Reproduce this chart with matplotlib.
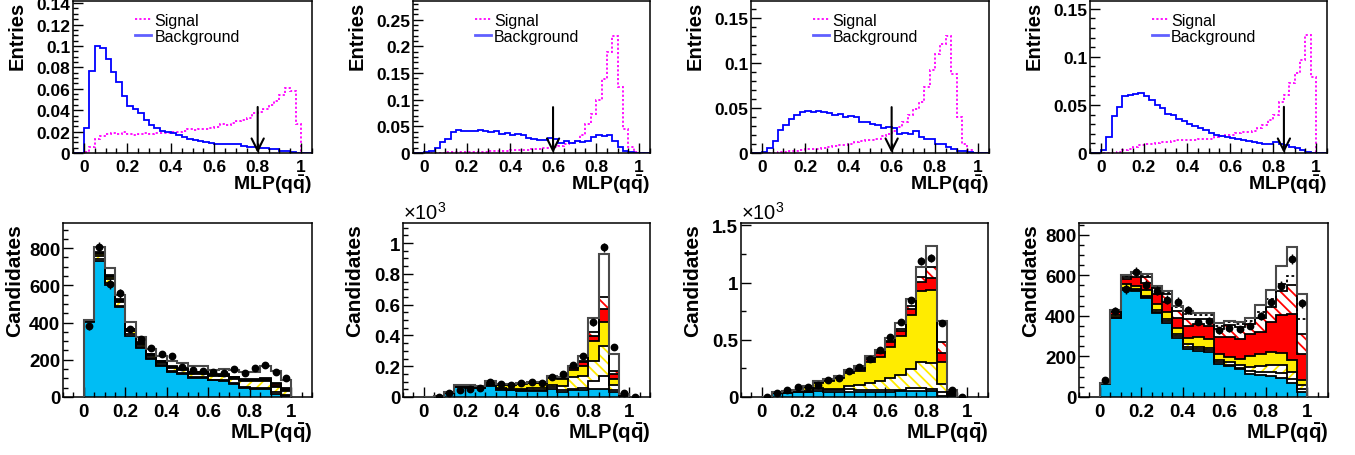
import numpy as np
import matplotlib
matplotlib.use("Agg")
import matplotlib.pyplot as plt
from matplotlib.lines import Line2D
from matplotlib.ticker import MultipleLocator, FuncFormatter

plt.rcParams.update({
    "font.family": ["Liberation Sans", "DejaVu Sans"],
    "font.weight": "bold",
    "mathtext.fontset": "custom",
    "mathtext.rm": "Liberation Sans:regular",
    "mathtext.bf": "Liberation Sans:bold",
    "mathtext.it": "Liberation Sans:italic",
    "hatch.linewidth": 1.3,
})

# ---------------- normalised MLP shapes (40 bins on [0, 1]) ----------------
sig1 = [0.001, 0.006, 0.013, 0.016, 0.018, 0.019, 0.018, 0.0195, 0.018, 0.017,
        0.0178, 0.019, 0.018, 0.019, 0.0185, 0.019, 0.0196, 0.020, 0.021, 0.022,
        0.0218, 0.022, 0.022, 0.023, 0.024, 0.027, 0.026, 0.028, 0.030, 0.031,
        0.033, 0.037, 0.038, 0.041, 0.045, 0.049, 0.054, 0.061, 0.058, 0.027]
bkg1 = [0.023, 0.077, 0.0995, 0.098, 0.088, 0.076, 0.066, 0.053, 0.044, 0.041,
        0.037, 0.031, 0.026, 0.023, 0.021, 0.020, 0.0185, 0.0165, 0.015, 0.013,
        0.012, 0.011, 0.010, 0.009, 0.0085, 0.0088, 0.0085, 0.008, 0.008, 0.007,
        0.006, 0.0055, 0.005, 0.0045, 0.004, 0.0035, 0.002, 0.0015, 0.001, 0.0003]

sig2 = [0, 0, 0, 0.0005, 0.001, 0.001, 0.001, 0.0015, 0.002, 0.002,
        0.002, 0.0025, 0.003, 0.003, 0.004, 0.004, 0.005, 0.005, 0.006, 0.006,
        0.007, 0.008, 0.009, 0.010, 0.011, 0.014, 0.016, 0.019, 0.022, 0.033,
        0.055, 0.074, 0.10, 0.139, 0.189, 0.22, 0.123, 0.045, 0.011, 0.002]
bkg2 = [0.002, 0.003, 0.010, 0.020, 0.027, 0.039, 0.044, 0.042, 0.041, 0.042,
        0.044, 0.041, 0.039, 0.041, 0.036, 0.038, 0.033, 0.036, 0.033, 0.028,
        0.026, 0.025, 0.024, 0.028, 0.027, 0.019, 0.022, 0.019, 0.022, 0.021,
        0.022, 0.030, 0.033, 0.032, 0.034, 0.022, 0.011, 0.003, 0.001, 0.0]

sig3 = [0, 0, 0.0005, 0.001, 0.001, 0.002, 0.0026, 0.003, 0.004, 0.0045,
        0.005, 0.006, 0.0067, 0.0074, 0.0085, 0.009, 0.0104, 0.012, 0.013, 0.014,
        0.015, 0.016, 0.0185, 0.0215, 0.025, 0.029, 0.034, 0.042, 0.049, 0.057,
        0.073, 0.092, 0.11, 0.1215, 0.13, 0.088, 0.04, 0.0096, 0.003, 0.0]
bkg3 = [0.001, 0.006, 0.013, 0.026, 0.031, 0.038, 0.042, 0.0455, 0.0467, 0.0455,
        0.0467, 0.0455, 0.045, 0.042, 0.043, 0.040, 0.041, 0.040, 0.034, 0.034,
        0.0326, 0.031, 0.028, 0.0285, 0.028, 0.0215, 0.0226, 0.0215, 0.024, 0.0178,
        0.016, 0.0152, 0.0104, 0.0096, 0.007, 0.004, 0.0026, 0.0019, 0.001, 0.0005]

sig4 = [0, 0, 0, 0.001, 0.003, 0.0045, 0.0063, 0.008, 0.009, 0.0095,
        0.0105, 0.011, 0.0115, 0.0126, 0.0133, 0.0133, 0.0136, 0.014, 0.0143, 0.0146,
        0.015, 0.0168, 0.0178, 0.0185, 0.019, 0.021, 0.022, 0.022, 0.023, 0.0255,
        0.029, 0.034, 0.040, 0.0535, 0.0605, 0.0727, 0.083, 0.097, 0.1227, 0.079]
bkg4 = [0.003, 0.017, 0.038, 0.048, 0.059, 0.0605, 0.0615, 0.062, 0.0595, 0.055,
        0.050, 0.0465, 0.041, 0.039, 0.035, 0.033, 0.030, 0.028, 0.0255, 0.0238,
        0.021, 0.0185, 0.0178, 0.0168, 0.0157, 0.015, 0.0136, 0.0126, 0.0115, 0.0108,
        0.0098, 0.0094, 0.011, 0.0098, 0.008, 0.0063, 0.0052, 0.003, 0.001, 0.0003]

mlp_cuts = [0.8, 0.6, 0.6, 0.85]
arrow_tops = [0.043, 0.086, 0.051, 0.048]
top_ymax = [0.142, 0.285, 0.169, 0.158]
top_major = [0.02, 0.05, 0.05, 0.05]
top_minor = [0.005, 0.01, 0.01, 0.01]

# ---------------- stacked fit components (20 bins on [0, 1]) ----------------
# panel 5 (candidates)
p5_cyan   = [402, 732, 604, 482, 330, 262, 202, 166, 134, 125, 102, 102, 89, 86, 68, 50, 45, 45, 18, 4]
p5_other  = [4, 8, 10, 8, 8, 6, 6, 5, 5, 5, 5, 5, 5, 5, 5, 5, 5, 5, 8, 5]
p5_yhatch = [3, 20, 20, 18, 16, 14, 14, 14, 16, 16, 18, 18, 18, 20, 25, 30, 35, 35, 30, 25]
p5_yellow = [2, 10, 10, 8, 6, 5, 4, 4, 4, 4, 4, 4, 4, 4, 4, 4, 4, 5, 5, 5]
p5_red    = [1, 4, 5, 4, 4, 3, 3, 3, 3, 3, 3, 3, 3, 3, 3, 4, 5, 8, 8, 6]
p5_rhatch = [1, 4, 5, 4, 4, 3, 3, 3, 3, 3, 3, 3, 3, 3, 3, 4, 5, 6, 6, 4]
p5_white  = [1, 26, 37, 24, 34, 28, 27, 25, 26, 26, 29, 33, 24, 31, 35, 40, 35, 60, 64, 40]
p5_data   = [379, 804, 607, 557, 363, 309, 261, 232, 218, 161, 143, 138, 132, 129, 152, 130, 155, 170, 134, 104]

# panel 6 (candidates / 1000)
p6_cyan   = [0, 0.005, 0.024, 0.063, 0.058, 0.056, 0.071, 0.048, 0.043, 0.041,
             0.041, 0.041, 0.05, 0.035, 0.043, 0.043, 0.052, 0.052, 0.03, 0.005]
p6_other  = [0, 0.002, 0.003, 0.004, 0.004, 0.004, 0.006, 0.004, 0.005, 0.004,
             0.005, 0.006, 0.013, 0.011, 0.011, 0.013, 0.054, 0.087, 0.015, 0.004]
p6_yhatch = [0, 0.001, 0.001, 0.002, 0.002, 0.002, 0.005, 0.004, 0.006, 0.01,
             0.012, 0.012, 0.013, 0.023, 0.074, 0.078, 0.130, 0.194, 0.035, 0.004]
p6_yellow = [0, 0.001, 0.002, 0.005, 0.008, 0.008, 0.016, 0.022, 0.024, 0.03,
             0.031, 0.03, 0.047, 0.048, 0.049, 0.069, 0.125, 0.156, 0.037, 0.003]
p6_red    = [0, 0, 0, 0.001, 0.002, 0.002, 0.004, 0.003, 0.003, 0.003,
             0.003, 0.003, 0.010, 0.008, 0.011, 0.022, 0.037, 0.082, 0.032, 0.002]
p6_rhatch = [0, 0, 0, 0.001, 0.001, 0.001, 0.002, 0.002, 0.002, 0.002,
             0.002, 0.002, 0.003, 0.004, 0.006, 0.011, 0.022, 0.076, 0.022, 0.001]
p6_white  = [0, 0, 0, 0, 0.001, 0.001, 0.002, 0.001, 0.001, 0.001,
             0.001, 0.001, 0.003, 0.003, 0.009, 0.032, 0.093, 0.282, 0.108, 0.0]
p6_data   = [np.nan, 0.0, 0.024, 0.045, 0.052, 0.058, 0.100, 0.084, 0.080, 0.093,
             0.097, 0.089, 0.128, 0.149, 0.210, 0.268, 0.485, 0.972, 0.322, 0.024, 0.0]

# panel 7 (candidates / 1000)
p7_cyan   = [0, 0.032, 0.032, 0.04, 0.04, 0.055, 0.047, 0.04, 0.04, 0.04,
             0.047, 0.047, 0.047, 0.05, 0.055, 0.05, 0.05, 0.012, 0.006, 0]
p7_other  = [0, 0.003, 0.006, 0.006, 0.008, 0.015, 0.018, 0.02, 0.03, 0.024,
             0.017, 0.014, 0.017, 0.014, 0.021, 0.029, 0.02, 0.029, 0.014, 0]
p7_yhatch = [0, 0.002, 0.004, 0.005, 0.007, 0.005, 0.008, 0.01, 0.03, 0.041,
             0.061, 0.082, 0.099, 0.131, 0.169, 0.224, 0.224, 0.073, 0.01, 0]
p7_yellow = [0, 0.002, 0.01, 0.01, 0.03, 0.045, 0.07, 0.096, 0.11, 0.125,
             0.184, 0.21, 0.277, 0.341, 0.475, 0.627, 0.642, 0.189, 0.008, 0]
p7_red    = [0, 0.001, 0.002, 0.002, 0.005, 0.01, 0.008, 0.012, 0.015, 0.015,
             0.023, 0.029, 0.038, 0.038, 0.05, 0.073, 0.102, 0.079, 0.012, 0]
p7_rhatch = [0, 0, 0.001, 0.001, 0.002, 0.004, 0.004, 0.006, 0.008, 0.01,
             0.015, 0.015, 0.015, 0.02, 0.029, 0.044, 0.096, 0.096, 0.006, 0]
p7_white  = [0, 0, 0, 0, 0.001, 0.003, 0.002, 0.003, 0.006, 0.019,
             0.015, 0.014, 0.023, 0.05, 0.058, 0.093, 0.181, 0.19, 0.008, 0]
p7_data   = [0.0, 0.032, 0.064, 0.085, 0.090, 0.108, 0.152, 0.163, 0.230, 0.265,
             0.332, 0.414, 0.528, 0.653, 0.843, 1.187, 1.216, 0.647, 0.064, 0.0]

# panel 8 (candidates)
p8_cyan   = [66, 388, 529, 524, 488, 413, 365, 292, 238, 229, 221, 161, 151, 136, 115, 107, 102, 95, 69, 25]
p8_other  = [1, 4, 4, 4, 6, 8, 10, 9, 10, 8, 10, 10, 9, 8, 13, 16, 20, 22, 20, 12]
p8_yhatch = [0, 3, 4, 4, 6, 8, 10, 10, 11, 9, 12, 13, 12, 12, 20, 28, 34, 39, 34, 20]
p8_yellow = [1, 10, 20, 15, 28, 30, 33, 30, 31, 49, 44, 29, 25, 29, 54, 59, 65, 60, 57, 25]
p8_red    = [1, 15, 25, 43, 32, 49, 49, 47, 62, 66, 65, 82, 98, 99, 109, 110, 148, 190, 230, 131]
p8_rhatch = [0, 4, 11, 20, 30, 28, 41, 38, 33, 24, 33, 41, 61, 60, 50, 68, 74, 118, 142, 98]
p8_wdot   = [0, 2, 5, 3, 8, 5, 5, 17, 25, 17, 17, 16, 13, 17, 13, 30, 41, 33, 46, 74]
p8_white  = [0, 3, 5, 5, 8, 8, 8, 8, 16, 11, 11, 12, 8, 11, 14, 36, 45, 90, 143, 123]
p8_data   = [82, 423, 533, 618, 552, 524, 480, 470, 429, 372, 377, 328, 339, 333, 352, 398, 467, 549, 680, 462]

CYAN, YELLOW, RED = "#00BDF4", "#FFEC00", "#FF0000"

W, H = 1355, 456
fig = plt.figure(figsize=(W / 100, H / 100), dpi=100)


def place(l, r, t, b):
    return fig.add_axes([l / W, 1 - b / H, (r - l) / W, (b - t) / H])


def gfmt(v, pos):
    return f"{round(v, 6):g}"


XLABEL = r"$\mathbf{MLP(q\bar{q})}$"


def style(ax, xlim, ylim, ymaj, ymin, size):
    ax.set_xlim(*xlim)
    ax.set_ylim(*ylim)
    ax.xaxis.set_major_locator(MultipleLocator(0.2))
    ax.xaxis.set_minor_locator(MultipleLocator(0.05))
    ax.yaxis.set_major_locator(MultipleLocator(ymaj))
    ax.yaxis.set_minor_locator(MultipleLocator(ymin))
    ax.xaxis.set_major_formatter(FuncFormatter(gfmt))
    ax.yaxis.set_major_formatter(FuncFormatter(gfmt))
    ax.tick_params(which="both", direction="in", top=False, right=False,
                   width=1.0, labelsize=size)
    ax.tick_params(which="major", length=7)
    ax.tick_params(which="minor", length=3.5)
    ax.tick_params(axis="y", pad=2)
    ax.tick_params(axis="x", pad=4)
    for sp in ax.spines.values():
        sp.set_linewidth(1.1)


# ---------------- top row: signal / background shapes ----------------
top_rects = [(73, 312), (413, 650), (751, 989), (1090, 1327)]
edges40 = np.linspace(-0.05, 1.05, 45)
shapes = [(sig1, bkg1), (sig2, bkg2), (sig3, bkg3), (sig4, bkg4)]
for k, ((l, r), (sig, bkg)) in enumerate(zip(top_rects, shapes)):
    ax = place(l, r, 2, 154)
    s = np.pad(np.asarray(sig, float), 2)
    b = np.pad(np.asarray(bkg, float), 2)
    ax.stairs(s, edges40, color="#FF00FF", lw=1.3, linestyle=(0, (1.2, 1.2)))
    ax.stairs(b, edges40, color="#0000FF", lw=1.3)
    ax.annotate("", xy=(mlp_cuts[k], 0), xytext=(mlp_cuts[k], arrow_tops[k]),
                arrowprops=dict(arrowstyle="->", lw=1.5, color="black",
                                mutation_scale=22, shrinkA=0, shrinkB=0))
    style(ax, (-0.05, 1.05), (0, top_ymax[k]), top_major[k], top_minor[k], 12.5)
    handles = [Line2D([], [], color="#FF00FF", lw=1.3, linestyle=(0, (1.2, 1.2))),
               Line2D([], [], color="#6060FF", lw=2.0)]
    ax.legend(handles, ["Signal", "Background"], loc="upper left",
              bbox_to_anchor=(0.228, 0.975), frameon=False, borderpad=0,
              handlelength=1.0, handletextpad=0.2, labelspacing=0.05,
              prop={"weight": "normal", "size": 11.5})
    ax.text(-0.235, 1.0, "Entries", transform=ax.transAxes, rotation=90,
            ha="center", va="top", fontsize=14.5, fontweight="bold")
    ax.text(1.0, -0.205, XLABEL, transform=ax.transAxes, ha="right",
            va="center", fontsize=14)

# ---------------- bottom row: stacked fit components with data ----------------
edges20 = np.linspace(0.0, 1.0, 21)
bot_rects = [(63, 312), (403, 650), (741, 988), (1079, 1328)]
panels = [
    dict(layers=[p5_cyan, p5_other, p5_yhatch, p5_yellow, p5_red, p5_rhatch, None, p5_white],
         data=p5_data, scale=1, ylim=935, ymaj=200, ymin=50, yh="///", exp=False),
    dict(layers=[p6_cyan, p6_other, p6_yhatch, p6_yellow, p6_red, p6_rhatch, None, p6_white],
         data=p6_data, scale=1000, ylim=1.13, ymaj=0.2, ymin=0.05, yh="\\\\\\", exp=True),
    dict(layers=[p7_cyan, p7_other, p7_yhatch, p7_yellow, p7_red, p7_rhatch, None, p7_white],
         data=p7_data, scale=1000, ylim=1.52, ymaj=0.5, ymin=0.25, yh="\\\\\\", exp=True),
    dict(layers=[p8_cyan, p8_other, p8_yhatch, p8_yellow, p8_red, p8_rhatch, p8_wdot, p8_white],
         data=p8_data, scale=1, ylim=858, ymaj=200, ymin=50, yh="///", exp=False),
]

for (l, r), p in zip(bot_rects, panels):
    ax = place(l, r, 224, 398)
    looks = [
        dict(fc=CYAN, hc=CYAN, hatch=None),
        dict(fc="white", hc="white", hatch=None),
        dict(fc="white", hc=YELLOW, hatch=p["yh"]),
        dict(fc=YELLOW, hc=YELLOW, hatch=None),
        dict(fc=RED, hc=RED, hatch=None),
        dict(fc="white", hc=RED, hatch="\\\\\\"),
        dict(fc="white", hc="white", hatch=None),
        dict(fc="white", hc="white", hatch=None),
    ]
    base = np.zeros(20)
    levels = []
    for vals, lk in zip(p["layers"], looks):
        if vals is None:
            levels.append(None)
            continue
        top = base + np.asarray(vals, float)
        ax.stairs(top, edges20, baseline=base, fill=True, facecolor=lk["fc"],
                  edgecolor=lk["hc"], hatch=lk["hatch"], lw=0, zorder=1)
        levels.append(top)
        base = top
    n = len(levels)
    for i, lev in enumerate(levels):
        if lev is None:
            continue
        if i == n - 1:
            ax.stairs(lev, edges20, color="#4a4a4a", lw=1.5, zorder=3)
        elif i == 6:
            ax.stairs(lev, edges20, color="black", lw=1.3, linestyle=(0, (1.5, 1.5)), zorder=2)
        else:
            ax.stairs(lev, edges20, color="black", lw=1.3, zorder=2)
    d = np.asarray(p["data"], float)
    xc = 0.025 + 0.05 * np.arange(len(d))
    err = np.sqrt(np.nan_to_num(d) * p["scale"]) / p["scale"]
    ax.errorbar(xc, d, yerr=err, fmt="o", color="black", ms=4.6, elinewidth=1.0,
                capsize=0, zorder=5)
    style(ax, (-0.1, 1.1), (0, p["ylim"]), p["ymaj"], p["ymin"], 13.5)
    if p["exp"]:
        ax.text(0.0, 1.0, r"$\times10^{3}$", transform=ax.transAxes, ha="left",
                va="bottom", fontsize=14.5)
    ax.text(-0.196, 1.0, "Candidates", transform=ax.transAxes, rotation=90,
            ha="center", va="top", fontsize=15, fontweight="bold")
    ax.text(1.0, -0.2, XLABEL, transform=ax.transAxes, ha="right",
            va="center", fontsize=14.7)

fig.savefig("out.png", dpi=100)
